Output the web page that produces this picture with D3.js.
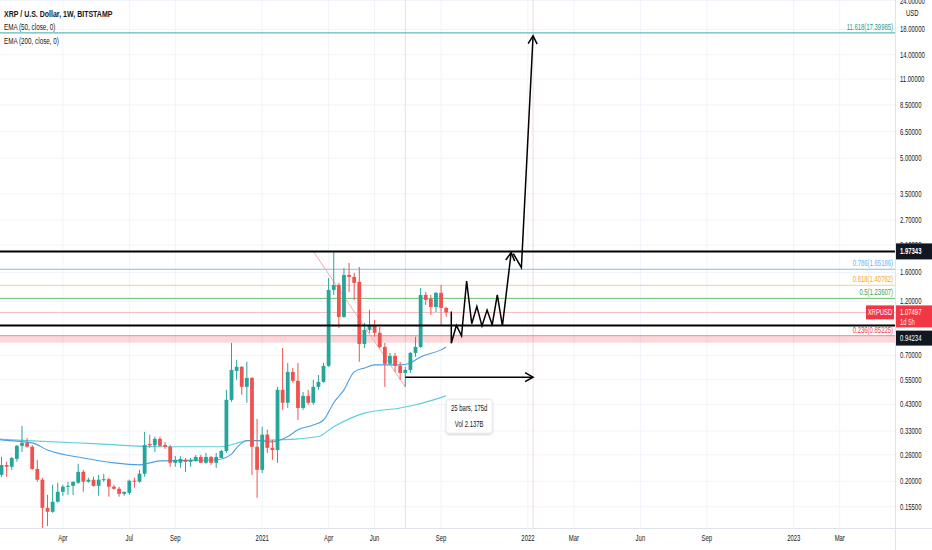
<!DOCTYPE html>
<html><head><meta charset="utf-8">
<script src="https://cdn.jsdelivr.net/npm/d3@7"></script>
<style>
body{margin:0;background:#fff;}
svg{display:block;}
text{font-family:"Liberation Sans", Arial, sans-serif;}
</style>
</head><body>
<svg id="chart" width="932" height="550"></svg>
<script>
// ---------- DATA ----------
const startWeek = "2020-01-13"; // first weekly bar
const opens  = [.213,.235,.231,.250,.2845,.293,.282,.226,.203,.1534,.1475,.163,.180,.1894,.191,.197,.2195,.199,.203,.191,.202,.204,.1894,.1855,.1764,.178,.201,.199,.2155,.290,.286,.305,.287,.2818,.2403,.2403,.2475,.2426,.245,.2547,.2403,.2547,.2403,.252,.2703,.450,.600,.625,.512,.5595,.2818,.224,.318,.279,.273,.497,.437,.594,.5435,.415,.468,.437,.512,.538,.631,1.345,1.412,1.028,1.561,1.531,1.456,.785,.903,.939,.877,.762,.644,.697,.631,.588,.606,.718,.762,1.279,1.230,1.135,1.306,1.124];
const highs  = [.255,.243,.255,.287,.347,.308,.287,.2475,.207,.1746,.193,.197,.193,.199,.199,.238,.224,.207,.209,.213,.2155,.207,.193,.189,.180,.203,.207,.224,.327,.318,.312,.312,.296,.287,.257,.257,.252,.252,.2597,.2597,.265,.257,.265,.273,.497,.793,.670,.630,.657,.565,.372,.344,.334,.302,.512,.754,.650,.618,.650,.487,.497,.549,.576,.650,1.515,1.96,1.442,1.672,1.760,1.593,1.690,.968,1.102,.997,.929,.793,.718,.718,.657,.625,.725,.843,1.372,1.318,1.279,1.318,1.412,1.135];
const lows   = [.209,.209,.224,.243,.2675,.279,.224,.199,.115,.128,.146,.1614,.173,.1746,.1746,.195,.180,.197,.1894,.173,.199,.1714,.1836,.1714,.173,.1746,.1875,.197,.209,.279,.2675,.2818,.276,.231,.231,.2285,.2195,.231,.2426,.2403,.238,.2354,.2285,.252,.265,.441,.549,.473,.437,.213,.1695,.217,.265,.2475,.2403,.407,.415,.533,.368,.407,.428,.428,.497,.533,.625,1.279,.920,1.018,1.318,1.217,.657,.754,.877,.843,.754,.512,.637,.594,.549,.512,.588,.690,.754,1.157,1.048,1.080,.948,1.028];
const closes = [.235,.231,.252,.2845,.293,.282,.226,.203,.1534,.1475,.163,.180,.1894,.191,.199,.2195,.199,.203,.191,.203,.204,.1894,.1855,.1764,.180,.201,.199,.2155,.287,.286,.305,.2845,.2818,.2403,.2475,.2495,.2426,.2475,.2547,.2403,.2547,.2403,.2547,.2703,.450,.606,.625,.512,.5595,.2818,.224,.318,.279,.273,.497,.437,.594,.5435,.415,.468,.437,.512,.538,.631,1.345,1.412,1.028,1.561,1.531,1.442,.785,.903,.939,.877,.762,.644,.697,.631,.588,.606,.718,.762,1.279,1.217,1.135,1.306,1.124,1.07497];

// EMA readings (bar index -> value)
const ema50Idx = [-1,0,6,9,16,22,27,29,31,42,45,46,48,51,53,56,58,61,63,65,67,69,71,73,78,80,82,86,87];
const ema50Val = [.304,.302,.293,.273,.252,.240,.2354,.240,.2448,.2475,.262,.279,.300,.299,.296,.312,.334,.350,.368,.437,.497,.594,.618,.637,.637,.650,.690,.740,.762];
const ema200Idx = [-1,6,19,31,43,48,54,58,62,65,71,78,81,87];
const ema200Val = [.305,.299,.290,.2818,.2818,.299,.302,.305,.312,.344,.394,.415,.428,.468];

const priceTicks = [24,18,14,11,8.5,6.5,5,3.5,2.7,2.1,1.6,1.2,0.7,0.55,0.43,0.33,0.26,0.2,0.155];
const timeTickDates = ["2020-04-06","2020-07-06","2020-09-07","2021-01-04","2021-04-05","2021-06-07","2021-09-06","2022-01-03","2022-03-07","2022-06-06","2022-09-05","2023-01-02","2023-03-06"];
const timeTickLabels = ["Apr","Jul","Sep","2021","Apr","Jun","Sep","2022","Mar","Jun","Sep","2023","Mar"];

const fibLevels = ["11.618","0.786","0.618","0.5","0.236"];
const fibPrices = [17.39985,1.65186,1.40762,1.23607,0.85225];
const fibLineColors = ["#3aa9ae","#7cc0f2","#f9cf94","#6abf6d","#f28b8b"];
const fibTextColors = ["#22a08c","#64b5f6","#f5a623","#43a047","#f23645"];

const levelPrices = [1.97343, 0.94234];
const lastPrice = 1.07497;
const zonePrices = [0.85225, 0.795];

const projDates  = ["2021-09-20","2021-09-20","2021-09-27","2021-10-04","2021-10-11","2021-10-18","2021-10-25","2021-11-01","2021-11-08","2021-11-15","2021-11-22","2021-11-29","2021-12-11"];
const projPrices = [1.085,0.79,0.945,0.852,1.47,0.96,1.14,0.94,1.10,0.95,1.28,0.94,1.95];
const proj2Dates  = ["2021-12-14","2021-12-25","2022-01-10"];
const proj2Prices = [1.93,1.68,16.9];

const trendDates = ["2021-03-15","2021-07-19"];
const trendPrices = [1.97343,0.512];
const rangeDates = ["2021-07-19","2022-01-10"];
const rangePrice = 0.5636;
const rangeText = ["25 bars, 175d","Vol 2.137B"];

// ---------- SETUP ----------
const parse = d3.utcParse("%Y-%m-%d");
const W = 932, H = 550, plotR = 895, plotB = 528;
const svg = d3.select("#chart");
const x = d3.scaleUtc().domain([parse("2021-01-01"), parse("2022-01-01")]).range([260, 526.5]);
const y = d3.scaleLog().domain([0.155, 18]).range([506.8, 29.5]);
const barDate = i => d3.utcDay.offset(parse(startWeek), 7 * i);

const SX = 0.66, FS = 9;
function txt(parent, px, py, str, o = {}) {
  return parent.append("text")
    .attr("transform", `translate(${px},${py}) scale(${o.sx || SX},1)`)
    .attr("text-anchor", o.anchor || "start")
    .attr("dominant-baseline", "central")
    .attr("font-size", o.size || FS)
    .attr("font-weight", o.weight || "normal")
    .attr("fill", o.fill || "#131722")
    .text(str);
}

svg.append("defs").html(`
  <clipPath id="plot"><rect x="0" y="0" width="${plotR}" height="${plotB}"/></clipPath>
  <marker id="arr" viewBox="-10 -6 12 12" refX="0" refY="0" markerWidth="12" markerHeight="12" markerUnits="userSpaceOnUse" orient="auto">
    <path d="M-8,-4.5 L0,0 L-8,4.5" fill="none" stroke="#000" stroke-width="1.5"/>
  </marker>
  <filter id="sh" x="-20%" y="-20%" width="140%" height="160%"><feDropShadow dx="0" dy="1" stdDeviation="1.2" flood-color="#000" flood-opacity="0.18"/></filter>
`);

const plot = svg.append("g").attr("clip-path", "url(#plot)");

// gridlines
plot.append("g").selectAll("line").data(priceTicks).join("line")
  .attr("x1", 0).attr("x2", plotR).attr("y1", d => y(d)).attr("y2", d => y(d))
  .attr("stroke", "#f0f3fa").attr("stroke-width", 1);
plot.append("g").selectAll("line").data(timeTickDates).join("line")
  .attr("x1", d => x(parse(d))).attr("x2", d => x(parse(d))).attr("y1", 0).attr("y2", plotB)
  .attr("stroke", "#f0f3fa").attr("stroke-width", 1);

// date range verticals
plot.append("g").selectAll("line").data(rangeDates).join("line")
  .attr("x1", d => x(parse(d))).attr("x2", d => x(parse(d))).attr("y1", 0).attr("y2", plotB)
  .attr("stroke", "#f7d9dc").attr("stroke-width", 1);

// zone band
plot.append("rect").attr("x", 0).attr("width", plotR)
  .attr("y", y(zonePrices[0])).attr("height", y(zonePrices[1]) - y(zonePrices[0]))
  .attr("fill", "#f23645").attr("fill-opacity", 0.2);

// fib lines
plot.append("g").selectAll("line").data(fibPrices).join("line")
  .attr("x1", 0).attr("x2", plotR).attr("y1", d => y(d)).attr("y2", d => y(d))
  .attr("stroke", (d, i) => fibLineColors[i]).attr("stroke-width", 1);

// last price line
plot.append("line").attr("x1", 0).attr("x2", plotR).attr("y1", y(lastPrice)).attr("y2", y(lastPrice))
  .attr("stroke", "#f7b9bd").attr("stroke-width", 1);

// trend line
plot.append("line")
  .attr("x1", x(parse(trendDates[0]))).attr("y1", y(trendPrices[0]))
  .attr("x2", x(parse(trendDates[1]))).attr("y2", y(trendPrices[1]))
  .attr("stroke", "#f4a9ae").attr("stroke-width", 1);

// EMAs
const lineGen = d3.line().curve(d3.curveMonotoneX);
plot.append("path").attr("d", lineGen(ema200Idx.map((k, i) => [x(barDate(k)), y(ema200Val[i])])))
  .attr("fill", "none").attr("stroke", "#5ccfd9").attr("stroke-width", 1.1);
plot.append("path").attr("d", lineGen(ema50Idx.map((k, i) => [x(barDate(k)), y(ema50Val[i])])))
  .attr("fill", "none").attr("stroke", "#4aa0e6").attr("stroke-width", 1.1);

// candles
const candles = opens.map((o, i) => ({ d: barDate(i), o, h: highs[i], l: lows[i], c: closes[i] }));
const up = "#26a69a", dn = "#ef5350";
const cg = plot.append("g").selectAll("g").data(candles).join("g");
cg.append("line")
  .attr("x1", d => x(d.d)).attr("x2", d => x(d.d))
  .attr("y1", d => y(d.h)).attr("y2", d => y(d.l))
  .attr("stroke", d => d.c >= d.o ? up : dn).attr("stroke-width", 1);
cg.append("rect")
  .attr("x", d => x(d.d) - 1.9).attr("width", 3.8)
  .attr("y", d => y(Math.max(d.o, d.c)))
  .attr("height", d => Math.max(1, Math.abs(y(d.o) - y(d.c))))
  .attr("fill", d => d.c >= d.o ? up : dn);

// black horizontal levels
plot.append("g").selectAll("line").data(levelPrices).join("line")
  .attr("x1", 0).attr("x2", plotR).attr("y1", d => y(d)).attr("y2", d => y(d))
  .attr("stroke", "#000").attr("stroke-width", 2);

// projection paths
const lin = d3.line();
plot.append("path").attr("d", lin(projDates.map((d, i) => [x(parse(d)), y(projPrices[i])])))
  .attr("fill", "none").attr("stroke", "#000").attr("stroke-width", 1.5)
  .attr("stroke-linejoin", "miter").attr("marker-end", "url(#arr)");
plot.append("path").attr("d", lin(proj2Dates.map((d, i) => [x(parse(d)), y(proj2Prices[i])])))
  .attr("fill", "none").attr("stroke", "#000").attr("stroke-width", 1.5)
  .attr("marker-end", "url(#arr)");

// date range arrow
const rx1 = x(parse(rangeDates[0])), rx2 = x(parse(rangeDates[1])), ry = y(rangePrice);
plot.append("line").attr("x1", rx1).attr("x2", rx2).attr("y1", ry).attr("y2", ry)
  .attr("stroke", "#000").attr("stroke-width", 1.5).attr("marker-end", "url(#arr)");
const bx = (rx1 + rx2) / 2, by = ry + 22;
plot.append("rect").attr("x", bx - 23).attr("y", by).attr("width", 46).attr("height", 34)
  .attr("rx", 3).attr("fill", "#fff").attr("stroke", "#e6e8ee").attr("filter", "url(#sh)");
txt(plot, bx, by + 9, rangeText[0], { anchor: "middle" });
txt(plot, bx, by + 25, rangeText[1], { anchor: "middle" });

// fib labels
fibPrices.forEach((p, i) => {
  txt(plot, 893, y(p) - 6, `${fibLevels[i]}(${p.toFixed(5)})`, { anchor: "end", fill: fibTextColors[i] });
});

// legend
txt(svg, 4, 14, "XRP / U.S. Dollar, 1W, BITSTAMP", { weight: "bold", sx: 0.78 });
txt(svg, 4, 27, "EMA (50, close, 0)", { sx: 0.7 });
txt(svg, 4, 41.5, "EMA (200, close, 0)", { sx: 0.7 });

// axes frame
svg.append("line").attr("x1", plotR + 0.5).attr("x2", plotR + 0.5).attr("y1", 0).attr("y2", H).attr("stroke", "#e0e3eb");
svg.append("line").attr("x1", 0).attr("x2", W).attr("y1", plotB + 0.5).attr("y2", plotB + 0.5).attr("stroke", "#e0e3eb");

// price axis labels
const ax = svg.append("g");
priceTicks.forEach(t => txt(ax, 900, y(t), t.toFixed(5)));
txt(ax, 906, 13.5, "USD");

// time axis labels
timeTickDates.forEach((d, i) => txt(ax, x(parse(d)), 538, timeTickLabels[i], { anchor: "middle" }));

// price tags
const tagY1 = y(levelPrices[0]);
ax.append("rect").attr("x", plotR + 1).attr("y", tagY1 - 8).attr("width", 36).attr("height", 16).attr("fill", "#131722");
txt(ax, 900, tagY1, levelPrices[0].toFixed(5), { fill: "#fff", weight: "bold" });

const lp = y(lastPrice);
ax.append("rect").attr("x", plotR + 1).attr("y", lp - 7).attr("width", 36).attr("height", 22).attr("fill", "#f23645");
txt(ax, 900, lp, lastPrice.toFixed(5), { fill: "#fff" });
txt(ax, 900, lp + 10, "1d 5h", { fill: "#fde0e2" });
ax.append("rect").attr("x", 866).attr("y", lp - 7).attr("width", 28).attr("height", 14).attr("fill", "#f23645");
txt(ax, 880, lp, "XRPUSD", { anchor: "middle", fill: "#fff" });

const tagY2 = y(levelPrices[1]) + 12;
ax.append("rect").attr("x", plotR + 1).attr("y", tagY2 - 7).attr("width", 36).attr("height", 15).attr("fill", "#131722");
txt(ax, 900, tagY2, levelPrices[1].toFixed(5), { fill: "#fff" });
</script>
</body></html>
